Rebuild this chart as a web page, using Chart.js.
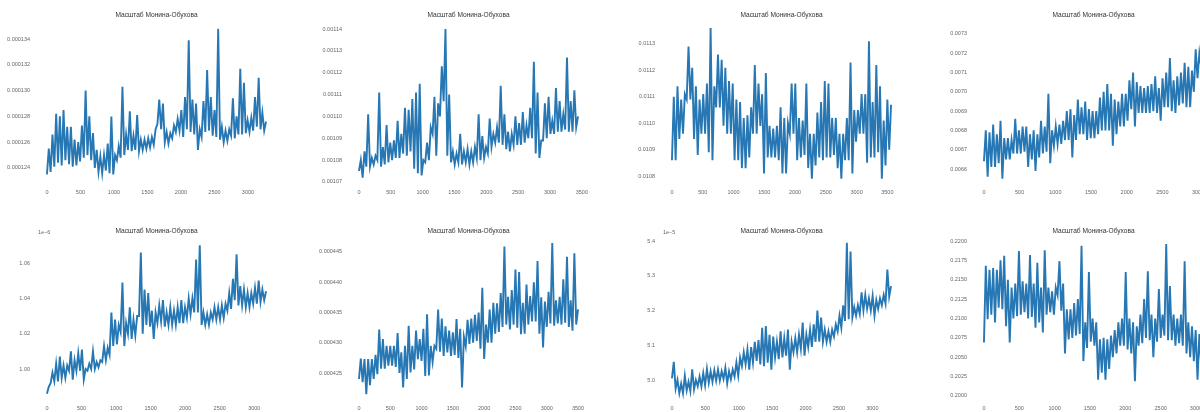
<!DOCTYPE html>
<html>
<head>
<meta charset="utf-8">
<script src="https://cdn.jsdelivr.net/npm/chart.js@4.4.1/dist/chart.umd.min.js"></script>
<style>
  html, body { margin: 0; padding: 0; background: #fff; width: 1200px; height: 412px; overflow: hidden; position: relative; }
  canvas { position: absolute; }
</style>
</head>
<body>
<script>
// --- data: lower and upper edge of the noisy trace at 60 evenly spaced x positions ---
// values are in the units printed on each y axis
const TITLE = 'Масштаб Монина-Обухова';

// panel 1 (x 1e-6)
const p1XEnd = 3270;
const p1Low = [
  123.5,123.7,124.1,124.4,124.2,124.6,124.3,124.1,124.2,124.5,
  124.8,125.0,124.6,124.0,123.7,123.6,123.8,123.6,123.5,124.6,
  124.8,125.0,125.4,125.3,125.4,125.3,125.4,125.5,125.6,125.8,
  127.4,127.0,126.0,125.9,126.3,126.8,126.9,126.4,127.0,126.8,
  126.6,125.4,126.4,126.8,126.9,126.5,126.4,126.2,126.0,126.1,
  126.5,126.3,126.6,126.6,126.7,126.8,126.9,127.2,127.0,126.9
];
const p1High = [
  125.5,126.6,128.2,128.0,128.5,127.2,127.2,126.2,126.0,127.3,
  130.0,128.0,126.7,125.4,124.9,125.0,125.9,128.0,125.0,125.7,
  130.3,126.6,128.4,126.5,128.1,126.2,126.2,126.3,126.4,127.0,
  129.3,129.0,126.8,126.7,127.3,127.8,128.5,129.5,133.9,129.3,
  129.0,127.0,129.2,131.6,129.5,128.5,134.8,127.2,126.9,127.0,
  129.4,128.0,131.7,130.6,127.7,127.9,129.5,131.0,128.3,127.6
];
const p1YTicks = [124, 126, 128, 130, 132, 134];
const p1XTicks = [0, 500, 1000, 1500, 2000, 2500, 3000];

// panel 2 (x 1e-5)
const p2XEnd = 3440;
const p2Low = [
  107.5,107.2,107.7,107.7,107.8,108.0,107.7,107.8,107.9,108.0,
  108.1,108.1,108.3,108.2,108.4,107.6,107.4,107.3,107.9,108.0,
  109.2,108.2,110.0,110.7,108.2,107.9,107.8,107.9,107.8,107.9,
  107.8,107.9,108.1,108.0,108.1,108.3,108.6,108.8,108.8,108.7,
  108.5,108.4,108.7,108.7,108.7,108.8,109.0,109.0,108.3,108.1,
  108.9,109.0,109.2,109.2,109.3,109.3,109.4,109.3,109.3,109.5
];
const p2High = [
  108.0,108.4,110.1,108.1,108.2,111.1,108.6,109.6,108.8,108.9,
  109.8,109.2,110.4,110.3,110.8,111.1,111.5,108.0,108.8,109.5,
  110.9,110.6,112.3,114.0,111.0,108.4,108.3,109.2,108.4,108.5,
  108.4,108.6,110.1,109.1,108.6,109.9,109.2,109.5,111.4,110.1,
  109.3,109.2,110.0,109.7,110.2,109.6,110.4,112.5,111.1,108.9,
  110.6,110.9,109.8,111.3,110.7,110.1,112.7,110.7,111.2,110.0
];
const p2YTicks = [107, 108, 109, 110, 111, 112, 113, 114];
const p2XTicks = [0, 500, 1000, 1500, 2000, 2500, 3000, 3500];

// panel 3 (x 1e-4)
const p3XEnd = 3560;
const p3Low = [
  108.6,108.6,109.4,109.6,110.9,110.9,109.4,108.8,109.6,109.6,
  108.9,108.6,110.6,110.6,109.9,109.6,109.6,108.6,108.6,108.3,
  108.3,108.7,109.6,109.6,109.9,108.1,108.7,108.7,108.7,108.6,
  108.1,108.1,109.6,109.6,108.6,108.7,108.8,108.3,107.9,108.4,
  108.7,108.6,108.7,108.7,108.8,108.3,107.9,108.6,108.6,108.1,
  109.3,109.6,109.6,108.5,108.7,108.7,108.9,107.9,108.4,109.0
];
const p3High = [
  111.0,111.4,110.9,111.1,112.9,112.1,111.4,110.9,111.1,111.5,
  113.6,111.4,112.6,112.4,112.1,111.6,111.5,110.9,110.8,110.2,
  110.3,110.6,112.2,111.5,111.1,111.9,109.9,109.8,109.9,110.6,
  110.2,110.0,111.5,111.5,110.2,110.1,111.5,109.6,109.6,110.4,
  110.8,111.6,111.5,110.2,110.2,109.6,109.6,110.2,112.3,110.5,
  110.5,111.1,111.1,113.1,110.8,112.2,111.4,110.1,110.9,110.7
];
const p3YTicks = [108, 109, 110, 111, 112, 113];
const p3XTicks = [0, 500, 1000, 1500, 2000, 2500, 3000, 3500];

// panel 4 (x 1e-4)
const p4XEnd = 3070;
const p4Low = [
  66.4,65.6,66.1,66.1,66.3,65.5,66.5,66.5,66.8,66.8,
  66.8,66.9,66.1,66.5,65.9,66.6,66.8,66.9,66.3,67.2,
  67.3,67.3,67.5,67.5,66.6,67.5,67.8,67.8,67.5,67.6,
  67.6,67.8,68.0,68.0,68.0,67.2,67.8,68.2,68.2,68.5,
  69.1,68.2,68.9,68.9,68.9,68.9,69.0,68.9,68.5,69.2,
  69.2,69.0,68.9,69.3,69.4,69.2,69.2,70.0,70.7,71.3
];
const p4High = [
  68.0,67.9,68.3,67.8,68.5,67.6,67.6,67.5,68.6,68.0,
  68.2,68.2,67.8,68.0,67.8,68.5,68.2,69.9,68.0,68.2,
  68.3,68.5,69.0,69.1,68.8,69.6,69.2,69.5,69.1,69.0,
  69.0,69.7,70.0,70.4,69.9,69.6,69.5,69.9,69.9,70.6,
  71.0,70.5,70.3,70.2,70.3,70.4,70.8,70.2,70.7,71.0,
  71.75,70.6,70.8,71.0,71.5,71.3,71.1,72.2,72.0,72.4
];
const p4YTicks = [66, 67, 68, 69, 70, 71, 72, 73];
const p4XTicks = [0, 500, 1000, 1500, 2000, 2500, 3000];

// panel 5 (1e-6)
const p5XEnd = 3170;
const p5Low = [
  0.986,0.992,0.993,0.993,0.995,0.995,0.999,0.994,0.999,0.999,
  0.994,0.999,1.000,1.000,1.001,1.004,1.005,1.008,1.013,1.014,
  1.021,1.013,1.020,1.017,1.019,1.030,1.020,1.025,1.024,1.017,
  1.026,1.027,1.024,1.025,1.025,1.025,1.026,1.026,1.029,1.031,
  1.032,1.032,1.025,1.025,1.025,1.028,1.028,1.028,1.029,1.033,
  1.034,1.039,1.036,1.036,1.035,1.035,1.037,1.037,1.038,1.039
];
const p5High = [
  0.990,0.998,1.003,1.007,1.002,1.002,1.010,1.005,1.009,1.011,
  1.000,1.003,1.010,1.004,1.005,1.013,1.012,1.032,1.028,1.025,
  1.049,1.026,1.035,1.028,1.030,1.066,1.045,1.043,1.033,1.032,
  1.036,1.039,1.032,1.035,1.033,1.035,1.039,1.035,1.040,1.040,
  1.062,1.070,1.032,1.031,1.032,1.035,1.035,1.036,1.037,1.043,
  1.051,1.065,1.047,1.045,1.043,1.043,1.046,1.050,1.045,1.044
];
const p5YTicks = [1.00, 1.02, 1.04, 1.06];
const p5XTicks = [0, 500, 1000, 1500, 2000, 2500, 3000];

// panel 6 (x 1e-6)
const p6XEnd = 3500;
const p6Low = [
  424.0,423.5,421.5,423.0,424.0,424.8,425.7,425.7,426.2,426.2,
  426.0,425.0,422.6,424.0,425.1,425.6,427.3,427.0,424.5,424.6,
  426.8,429.0,428.5,427.8,428.4,427.8,428.0,427.5,422.6,429.4,
  429.8,430.0,430.3,429.0,427.3,430.0,430.0,431.5,431.8,432.6,
  433.0,432.2,433.0,432.5,431.4,431.5,433.0,433.5,433.5,431.5,
  429.2,432.6,433.2,432.8,433.2,433.0,433.3,432.6,432.0,433.0
];
const p6High = [
  427.4,427.3,427.3,427.3,428.0,432.2,430.6,429.5,429.5,429.5,
  431.6,428.4,429.5,432.8,429.5,432.0,430.6,432.3,434.7,429.5,
  429.5,435.5,434.0,432.7,432.0,431.7,433.9,432.3,431.0,433.8,
  434.0,434.6,435.0,439.1,433.0,435.5,436.6,436.5,438.2,445.9,
  437.6,438.7,442.1,441.7,436.6,439.6,437.7,440.0,443.5,437.5,
  436.8,438.4,446.5,437.0,437.6,440.5,444.2,437.0,444.8,435.5
];
const p6YTicks = [425, 430, 435, 440, 445];
const p6XTicks = [0, 500, 1000, 1500, 2000, 2500, 3000, 3500];

// panel 7 (1e-5)
const p7XEnd = 3280;
const p7Low = [
  5.005,4.975,4.962,4.962,4.970,4.968,4.973,4.982,4.982,4.985,
  4.992,4.995,4.998,4.998,5.003,4.990,5.002,5.010,5.012,5.040,
  5.045,5.030,5.050,5.055,5.045,5.040,5.050,5.030,5.065,5.060,
  5.065,5.070,5.030,5.080,5.080,5.090,5.070,5.095,5.095,5.110,
  5.110,5.110,5.110,5.110,5.125,5.140,5.150,5.170,5.175,5.180,
  5.185,5.190,5.200,5.205,5.200,5.185,5.205,5.215,5.220,5.240
];
const p7High = [
  5.052,5.000,4.990,5.012,4.995,5.031,5.000,5.010,5.020,5.032,
  5.025,5.028,5.030,5.025,5.035,5.025,5.030,5.050,5.065,5.080,
  5.088,5.095,5.110,5.115,5.150,5.155,5.130,5.125,5.110,5.140,
  5.120,5.145,5.110,5.120,5.130,5.165,5.130,5.145,5.160,5.200,
  5.180,5.145,5.140,5.145,5.160,5.185,5.215,5.395,5.370,5.210,
  5.215,5.252,5.245,5.235,5.242,5.230,5.235,5.245,5.318,5.270
];
const p7YTicks = [5.0, 5.1, 5.2, 5.3, 5.4];
const p7XTicks = [0, 500, 1000, 1500, 2000, 2500, 3000];

// panel 8
const p8XEnd = 3100;
const p8Low = [
  0.2069,0.2099,0.2105,0.2095,0.2114,0.2112,0.2090,0.2069,0.2100,0.2103,
  0.2105,0.2108,0.2100,0.2102,0.2088,0.2095,0.2082,0.2105,0.2108,0.2105,
  0.2130,0.2110,0.2055,0.2073,0.2075,0.2078,0.2080,0.2045,0.2062,0.2070,
  0.2065,0.2021,0.2030,0.2021,0.2035,0.2050,0.2055,0.2065,0.2065,0.2060,
  0.2055,0.2019,0.2065,0.2068,0.2075,0.2072,0.2050,0.2070,0.2075,0.2078,
  0.2072,0.2072,0.2065,0.2068,0.2065,0.2055,0.2050,0.2045,0.2021,0.2040
];
const p8High = [
  0.2168,0.2163,0.2165,0.2163,0.2175,0.2181,0.2150,0.2140,0.2145,0.2187,
  0.2148,0.2145,0.2182,0.2145,0.2172,0.2140,0.2188,0.2140,0.2135,0.2140,
  0.2174,0.2145,0.2112,0.2112,0.2120,0.2125,0.2194,0.2095,0.2160,0.2100,
  0.2095,0.2073,0.2075,0.2073,0.2078,0.2085,0.2095,0.2100,0.2160,0.2100,
  0.2095,0.2090,0.2105,0.2125,0.2161,0.2105,0.2100,0.2138,0.2105,0.2196,
  0.2142,0.2105,0.2100,0.2105,0.2174,0.2095,0.2090,0.2085,0.2080,0.2110
];
const p8YTicks = [0.2000, 0.2025, 0.2050, 0.2075, 0.2100, 0.2125, 0.2150, 0.2175, 0.2200];
const p8XTicks = [0, 500, 1000, 1500, 2000, 2500, 3000];

// --- panels: y range, label format, offset text ---
const panels = [
  { low: p1Low, high: p1High, xEnd: p1XEnd, xTicks: p1XTicks, yTicks: p1YTicks, yMin: 122.68, yMax: 135.40, unit: 1e-6, dec: 6 },
  { low: p2Low, high: p2High, xEnd: p2XEnd, xTicks: p2XTicks, yTicks: p2YTicks, yMin: 106.86, yMax: 114.37, unit: 1e-5, dec: 5 },
  { low: p3Low, high: p3High, xEnd: p3XEnd, xTicks: p3XTicks, yTicks: p3YTicks, yMin: 107.66, yMax: 113.87, unit: 1e-4, dec: 4 },
  { low: p4Low, high: p4High, xEnd: p4XEnd, xTicks: p4XTicks, yTicks: p4YTicks, yMin: 65.17, yMax: 73.67, unit: 1e-4, dec: 4 },
  { low: p5Low, high: p5High, xEnd: p5XEnd, xTicks: p5XTicks, yTicks: p5YTicks, yMin: 0.9819, yMax: 1.0753, unit: 1, dec: 2, offset: '1e\u22126' },
  { low: p6Low, high: p6High, xEnd: p6XEnd, xTicks: p6XTicks, yTicks: p6YTicks, yMin: 420.37, yMax: 447.64, unit: 1e-6, dec: 6 },
  { low: p7Low, high: p7High, xEnd: p7XEnd, xTicks: p7XTicks, yTicks: p7YTicks, yMin: 4.9396, yMax: 5.4144, unit: 1, dec: 1, offset: '1e\u22125' },
  { low: p8Low, high: p8High, xEnd: p8XEnd, xTicks: p8XTicks, yTicks: p8YTicks, yMin: 0.19935, yMax: 0.22065, unit: 1, dec: 4 }
];

// --- layout of the 2x4 grid ---
const AXIS_W = 40, AREA_W = 241, CANVAS_W = 301, CANVAS_H = 206;
const colLeft = [36, 348, 661, 973];
const rows = [
  { top: 0,   areaTop: 21, areaBottom: 185, titleY: 15 },
  { top: 206, areaTop: 30, areaBottom: 195, titleY: 25 }
];
const FONT = 'Liberation Sans';
const TICK_COLOR = '#666';
const TITLE_SIZE = 6.6, TITLE_LH = 8;

// matplotlib-like offset text (1e-6) above the y axis
const offsetText = {
  id: 'offsetText',
  afterDraw(chart, args, opts) {
    if (!opts.text) return;
    const { ctx, chartArea } = chart;
    ctx.save();
    ctx.font = '5.5px "' + FONT + '"';
    ctx.fillStyle = TICK_COLOR;
    ctx.textAlign = 'left';
    ctx.textBaseline = 'bottom';
    ctx.fillText(opts.text, chartArea.left + 2, chartArea.top - 1);
    ctx.restore();
  }
};

panels.forEach(function (p, idx) {
  const col = idx % 4;
  const g = rows[Math.floor(idx / 4)];

  const canvas = document.createElement('canvas');
  canvas.width = CANVAS_W;
  canvas.height = CANVAS_H;
  canvas.style.left = (colLeft[col] - AXIS_W) + 'px';
  canvas.style.top = g.top + 'px';
  document.body.appendChild(canvas);

  // the trace runs low edge -> high edge -> next low edge ..., like the dense original
  const n = p.low.length;
  const step = p.xEnd / (2 * n - 1);
  const points = [];
  for (let k = 0; k < n; k++) {
    points.push({ x: (2 * k) * step, y: p.low[k] });
    points.push({ x: (2 * k + 1) * step, y: p.high[k] });
  }

  new Chart(canvas, {
    type: 'line',
    data: {
      datasets: [{
        data: points,
        borderColor: '#2677b3',
        borderWidth: 1.9,
        pointRadius: 0,
        tension: 0,
        fill: false
      }]
    },
    options: {
      responsive: false,
      animation: false,
      devicePixelRatio: 1,
      layout: { padding: { left: 0, top: 0, right: CANVAS_W - AXIS_W - AREA_W, bottom: 0 } },
      plugins: {
        legend: { display: false },
        tooltip: { enabled: false },
        title: {
          display: true,
          text: TITLE,
          fullSize: false,
          color: '#333',
          font: { family: FONT, size: TITLE_SIZE, weight: 'normal', lineHeight: TITLE_LH / TITLE_SIZE },
          padding: { top: g.titleY - TITLE_LH / 2, bottom: g.areaTop - g.titleY - TITLE_LH / 2 }
        },
        offsetText: { text: p.offset || '' }
      },
      scales: {
        x: {
          type: 'linear',
          min: -0.05 * p.xEnd,
          max: 1.05 * p.xEnd,
          grid: { display: false, drawTicks: false },
          border: { display: false },
          afterBuildTicks: s => { s.ticks = p.xTicks.map(v => ({ value: v })); },
          afterFit: s => { s.height = CANVAS_H - g.areaBottom; },
          ticks: {
            padding: 4, color: TICK_COLOR, maxRotation: 0, autoSkip: false,
            font: { family: FONT, size: 5.5 },
            callback: v => String(v)
          }
        },
        y: {
          min: p.yMin,
          max: p.yMax,
          grid: { display: false, drawTicks: false },
          border: { display: false },
          afterBuildTicks: s => { s.ticks = p.yTicks.map(v => ({ value: v })); },
          afterFit: s => { s.width = AXIS_W; },
          ticks: {
            padding: 6, color: TICK_COLOR, autoSkip: false,
            font: { family: FONT, size: 5.5 },
            callback: v => (v * p.unit).toFixed(p.dec)
          }
        }
      }
    },
    plugins: [offsetText]
  });
});
</script>
</body>
</html>
